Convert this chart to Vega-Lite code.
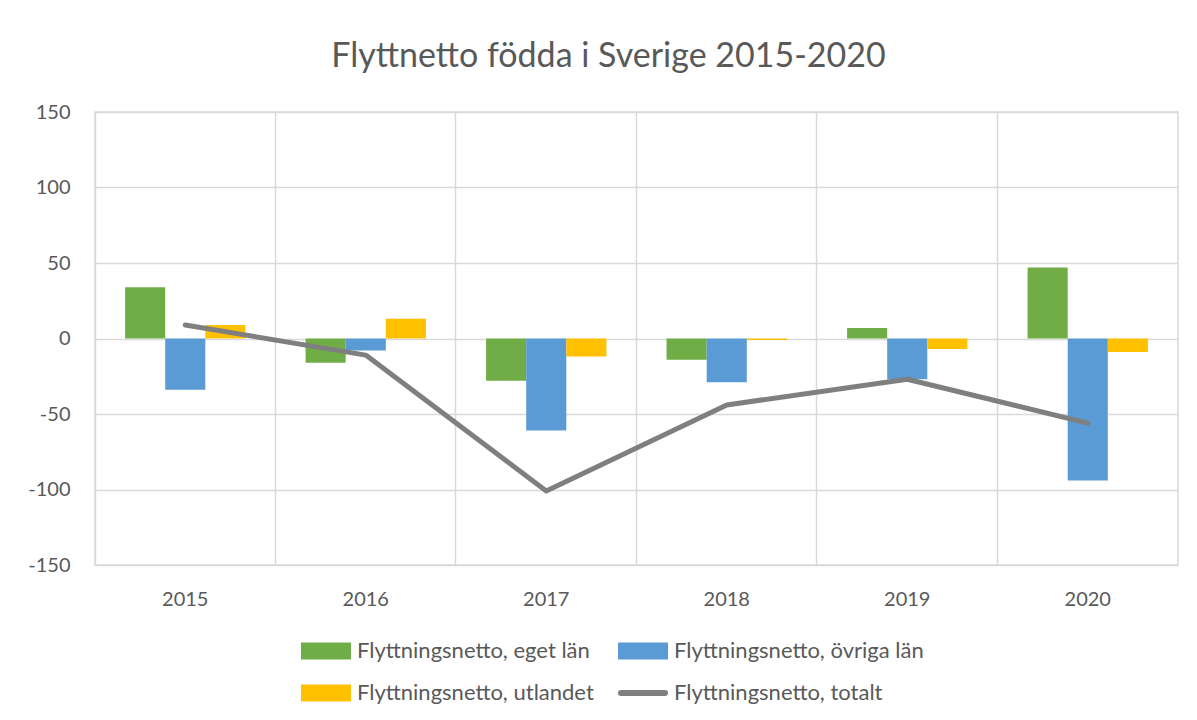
{
  "$schema": "https://vega.github.io/schema/vega-lite/v6.json",
  "autosize": {"type": "none"},
  "width": 1083,
  "height": 453,
  "padding": {"left": 95, "top": 112, "right": 19, "bottom": 155},
  "background": "white",
  "title": {
    "text": "Flyttnetto födda i Sverige 2015-2020",
    "font": "Lato",
    "fontSize": 34,
    "fontWeight": "normal",
    "color": "#595959",
    "anchor": "middle",
    "offset": 28,
    "dx": -28
  },
  "config": {
    "font": "Lato",
    "view": {"stroke": "#d9d9d9", "strokeWidth": 1.5},
    "axis": {"gridColor": "#d9d9d9", "gridWidth": 1.5}
  },
  "data": {
    "values": [
      {"year": "2015", "serie": "Flyttningsnetto, eget län", "value": 34},
      {"year": "2015", "serie": "Flyttningsnetto, övriga län", "value": -34},
      {"year": "2015", "serie": "Flyttningsnetto, utlandet", "value": 9},
      {"year": "2015", "serie": "Flyttningsnetto, totalt", "value": 9},
      {"year": "2016", "serie": "Flyttningsnetto, eget län", "value": -16},
      {"year": "2016", "serie": "Flyttningsnetto, övriga län", "value": -8},
      {"year": "2016", "serie": "Flyttningsnetto, utlandet", "value": 13},
      {"year": "2016", "serie": "Flyttningsnetto, totalt", "value": -11},
      {"year": "2017", "serie": "Flyttningsnetto, eget län", "value": -28},
      {"year": "2017", "serie": "Flyttningsnetto, övriga län", "value": -61},
      {"year": "2017", "serie": "Flyttningsnetto, utlandet", "value": -12},
      {"year": "2017", "serie": "Flyttningsnetto, totalt", "value": -101},
      {"year": "2018", "serie": "Flyttningsnetto, eget län", "value": -14},
      {"year": "2018", "serie": "Flyttningsnetto, övriga län", "value": -29},
      {"year": "2018", "serie": "Flyttningsnetto, utlandet", "value": -1},
      {"year": "2018", "serie": "Flyttningsnetto, totalt", "value": -44},
      {"year": "2019", "serie": "Flyttningsnetto, eget län", "value": 7},
      {"year": "2019", "serie": "Flyttningsnetto, övriga län", "value": -27},
      {"year": "2019", "serie": "Flyttningsnetto, utlandet", "value": -7},
      {"year": "2019", "serie": "Flyttningsnetto, totalt", "value": -27},
      {"year": "2020", "serie": "Flyttningsnetto, eget län", "value": 47},
      {"year": "2020", "serie": "Flyttningsnetto, övriga län", "value": -94},
      {"year": "2020", "serie": "Flyttningsnetto, utlandet", "value": -9},
      {"year": "2020", "serie": "Flyttningsnetto, totalt", "value": -56}
    ]
  },
  "encoding": {
    "x": {
      "field": "year",
      "type": "nominal",
      "scale": {"paddingInner": 0.3333, "paddingOuter": 0.1667},
      "axis": {
        "title": null,
        "labelAngle": 0,
        "labelFontSize": 20,
        "labelColor": "#595959",
        "labelPadding": 24,
        "domain": false,
        "ticks": false,
        "grid": true,
        "bandPosition": -0.25
      }
    },
    "y": {
      "field": "value",
      "type": "quantitative",
      "scale": {"domain": [-150, 150], "nice": false},
      "axis": {
        "title": null,
        "values": [-150, -100, -50, 0, 50, 100, 150],
        "labelExpr": "'' + datum.value",
        "labelFontSize": 20,
        "labelColor": "#595959",
        "labelPadding": 25,
        "domain": false,
        "ticks": false,
        "grid": true
      }
    },
    "color": {
      "field": "serie",
      "type": "nominal",
      "scale": {
        "domain": ["Flyttningsnetto, eget län", "Flyttningsnetto, övriga län", "Flyttningsnetto, utlandet", "Flyttningsnetto, totalt"],
        "range": ["#70ad47", "#5b9bd5", "#ffc000", "#7f7f7f"]
      },
      "legend": {
        "title": null,
        "orient": "none",
        "legendX": 220,
        "legendY": 528,
        "direction": "horizontal",
        "columns": 2,
        "columnPadding": 15,
        "rowPadding": 19,
        "labelFontSize": 22,
        "labelColor": "#595959",
        "labelOffset": 20,
        "labelLimit": 400,
        "symbolSize": 2500,
        "symbolType": "M-1,-0.34H1V0.34H-1Z",
        "encode": {
          "symbols": {
            "update": {
              "shape": {"signal": "datum.value === 'Flyttningsnetto, totalt' ? 'M-0.88,0H0.88' : 'M-1,-0.34H1V0.34H-1Z'"},
              "fill": {"signal": "datum.value === 'Flyttningsnetto, totalt' ? 'transparent' : scale('color', datum.value)"},
              "stroke": {"signal": "scale('color', datum.value)"},
              "strokeWidth": {"signal": "datum.value === 'Flyttningsnetto, totalt' ? 6 : 0"},
              "strokeCap": {"value": "round"},
              "opacity": {"value": 1}
            }
          }
        }
      }
    }
  },
  "layer": [
    {
      "transform": [{"filter": "datum.serie !== 'Flyttningsnetto, totalt'"}],
      "mark": {"type": "bar", "opacity": 1},
      "encoding": {
        "xOffset": {
          "field": "serie",
          "type": "nominal",
          "scale": {
            "domain": ["Flyttningsnetto, eget län", "Flyttningsnetto, övriga län", "Flyttningsnetto, utlandet"],
            "paddingInner": 0,
            "paddingOuter": 0
          }
        }
      }
    },
    {
      "transform": [{"filter": "datum.serie === 'Flyttningsnetto, totalt'"}],
      "mark": {"type": "line", "strokeWidth": 5, "strokeCap": "round", "strokeJoin": "round"},
      "encoding": {}
    }
  ]
}
